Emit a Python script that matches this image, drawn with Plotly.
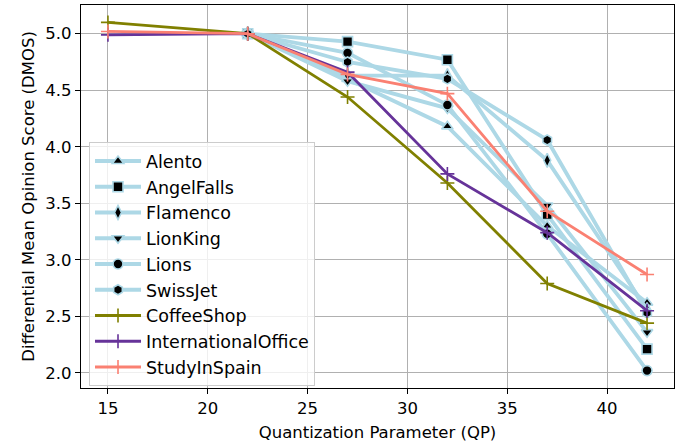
import plotly.graph_objects as go

qp_blue = [22, 27, 32, 37, 42]
qp_ext = [15, 22, 27, 32, 37, 42]

alento = [5.0, 4.60, 4.18, 3.30, 2.62]
angelfalls = [5.0, 4.93, 4.77, 3.40, 2.21]
flamenco = [5.0, 4.63, 4.63, 3.88, 2.56]
lionking = [5.0, 4.58, 4.34, 3.48, 2.36]
lions = [5.0, 4.83, 4.37, 3.23, 2.02]
swissjet = [5.0, 4.75, 4.60, 4.06, 2.53]

coffeeshop = [5.10, 5.0, 4.44, 3.68, 2.79, 2.44]
internationaloffice = [4.99, 5.0, 4.66, 3.76, 3.24, 2.55]
studyinspain = [5.02, 5.0, 4.64, 4.47, 3.43, 2.87]

blue_series = [
    ("Alento", alento, "triangle-up"),
    ("AngelFalls", angelfalls, "square"),
    ("Flamenco", flamenco, "diamond-tall"),
    ("LionKing", lionking, "triangle-down"),
    ("Lions", lions, "circle"),
    ("SwissJet", swissjet, "hexagon"),
]
other_series = [
    ("CoffeeShop", coffeeshop, "#808000"),
    ("InternationalOffice", internationaloffice, "#663399"),
    ("StudyInSpain", studyinspain, "#fa8072"),
]

fig = go.Figure()
for name, vals, sym in blue_series:
    fig.add_trace(go.Scatter(
        x=qp_blue, y=vals, name=name, mode="lines+markers", legendgroup=name,
        line=dict(color="#add8e6", width=3.8),
        marker=dict(symbol=sym, size=10, color="black",
                    line=dict(color="#add8e6", width=1.6)),
    ))
for name, vals, col in other_series:
    fig.add_trace(go.Scatter(
        x=qp_ext, y=vals, name=name, mode="lines+markers", legendgroup=name,
        line=dict(color=col, width=2.8),
        marker=dict(symbol="cross-thin", size=10, color=col,
                    line=dict(color=col, width=1.6)),
    ))

axis_common = dict(
    showgrid=True, gridcolor="#b0b0b0", gridwidth=1,
    showline=True, linecolor="black", linewidth=1.3, mirror=True,
    ticks="outside", ticklen=5, tickcolor="black", tickwidth=1.2,
    tickfont=dict(size=16.5, color="black"), zeroline=False,
    automargin=False,
)

fig.update_layout(
    width=678, height=444,
    margin=dict(l=81, r=4, t=5, b=56),
    paper_bgcolor="white", plot_bgcolor="white",
    font=dict(family="DejaVu Sans", color="black"),
    xaxis=dict(range=[13.65, 43.35], tickvals=[15, 20, 25, 30, 35, 40],
               title=dict(text="Quantization Parameter (QP)", font=dict(size=16.5), standoff=9),
               **axis_common),
    yaxis=dict(range=[1.866, 5.254], tickvals=[2.0, 2.5, 3.0, 3.5, 4.0, 4.5, 5.0],
               tickformat=".1f",
               title=dict(text="Differential Mean Opinion Score (DMOS)", font=dict(size=16.5), standoff=6),
               **axis_common),
    legend=dict(
        x=0.0135, y=0.642, xanchor="left", yanchor="top",
        bgcolor="rgba(255,255,255,0.8)", bordercolor="#cccccc", borderwidth=1,
        font=dict(size=17.5, color="black"), tracegroupgap=0,
        traceorder="grouped", itemwidth=46,
    ),
)

fig.write_html("out.html", config={"displayModeBar": False},
               post_script="document.body.style.margin='0';")
